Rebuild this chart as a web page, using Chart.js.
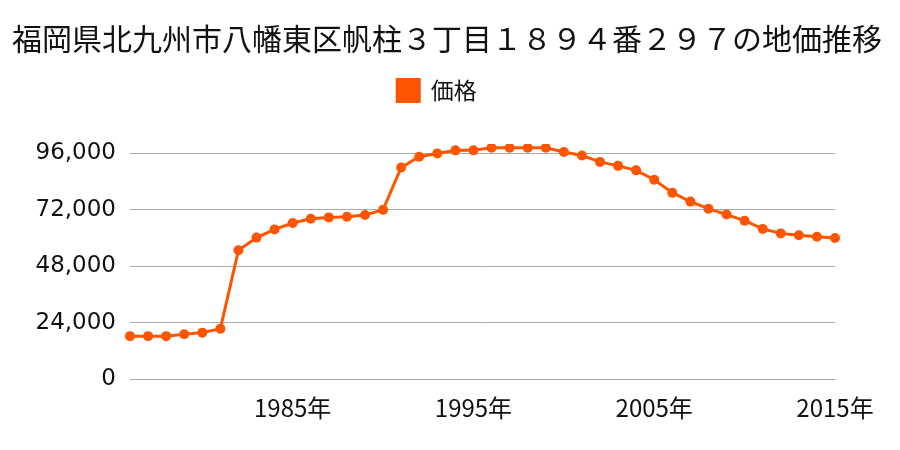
<!DOCTYPE html>
<html>
<head>
<meta charset="utf-8">
<script src="https://cdn.jsdelivr.net/npm/chart.js@4"></script>
<style>
  html, body { margin: 0; padding: 0; background: #fff; }
  #wrap { width: 900px; height: 450px; }
</style>
</head>
<body>
<div id="wrap"><canvas id="priceChart" width="900" height="450"></canvas></div>
<script>
// 地価推移データ（1976〜2015年）
const years = [
  '1976','1977','1978','1979','1980','1981','1982','1983','1984','1985',
  '1986','1987','1988','1989','1990','1991','1992','1993','1994','1995',
  '1996','1997','1998','1999','2000','2001','2002','2003','2004','2005',
  '2006','2007','2008','2009','2010','2011','2012','2013','2014','2015'
];
const prices = [
  18300, 18300, 18300, 19100, 19800, 21500, 54800, 60200, 63700, 66400,
  68200, 68800, 69100, 69800, 72000, 90000, 94600, 96000, 97300, 97300,
  98400, 98400, 98400, 98400, 96600, 95100, 92400, 90700, 88800, 84800,
  79300, 75500, 72500, 70000, 67400, 63900, 62000, 61200, 60600, 60000
];
const yTicks = [0, 24000, 48000, 72000, 96000];
const shownYears = ['1985', '1995', '2005', '2015'];

const titleText = '福岡県北九州市八幡東区帆柱３丁目１８９４番２９７の地価推移';
const seriesLabel = '価格';
const orange = '#ff5500';
const font = "'Noto Sans CJK JP', 'Noto Sans', sans-serif";

Chart.defaults.font.family = font;
Chart.defaults.color = '#111';

// 凡例とグラフの間に余白を足し、凡例を少し左へ寄せる
const legendGap = {
  id: 'legendGap',
  beforeInit(chart) {
    const fit = chart.legend.fit;
    chart.legend.fit = function () {
      fit.bind(chart.legend)();
      this.height += 32;
    };
  },
  afterLayout(chart) {
    chart.legend.left -= 10;
    chart.legend.right -= 10;
  }
};

new Chart(document.getElementById('priceChart'), {
  type: 'line',
  data: {
    labels: years,
    datasets: [{
      label: seriesLabel,
      data: prices,
      borderColor: orange,
      backgroundColor: orange,
      borderWidth: 3,
      pointRadius: 5,
      pointBackgroundColor: orange,
      pointBorderWidth: 0,
      tension: 0
    }]
  },
  plugins: [legendGap],
  options: {
    responsive: false,
    animation: false,
    layout: { padding: { left: 12, right: 18, top: 5, bottom: 22 } },
    plugins: {
      title: {
        display: true,
        text: titleText,
        font: { size: 30, weight: 'normal' },
        color: '#111',
        padding: { top: 16, bottom: 10 }
      },
      legend: {
        display: true,
        labels: {
          boxWidth: 22,
          boxHeight: 22,
          padding: 12,
          font: { size: 23 },
          color: '#111'
        }
      },
      tooltip: { enabled: false }
    },
    scales: {
      x: {
        offset: false,
        grid: { display: false },
        border: { display: false },
        afterFit: (scale) => {
          scale.paddingLeft = 0;
          scale.paddingRight = 65;
        },
        ticks: {
          autoSkip: false,
          maxRotation: 0,
          padding: 6,
          font: { size: 24 },
          color: '#111',
          callback: function (v) {
            const y = this.getLabelForValue(v);
            return shownYears.includes(y) ? y + '年' : '';
          }
        }
      },
      y: {
        min: 0,
        max: 100000,
        border: { display: false },
        grid: { color: '#aaaaaa', lineWidth: 1, drawTicks: false },
        afterBuildTicks: (scale) => {
          scale.ticks = yTicks.map(v => ({ value: v }));
        },
        afterFit: (scale) => {
          scale.width = 118;
        },
        ticks: {
          padding: 14,
          font: { size: 23, family: "'DejaVu Sans', sans-serif" },
          color: '#111',
          callback: v => v.toLocaleString('en-US')
        }
      }
    }
  }
});
</script>
</body>
</html>
